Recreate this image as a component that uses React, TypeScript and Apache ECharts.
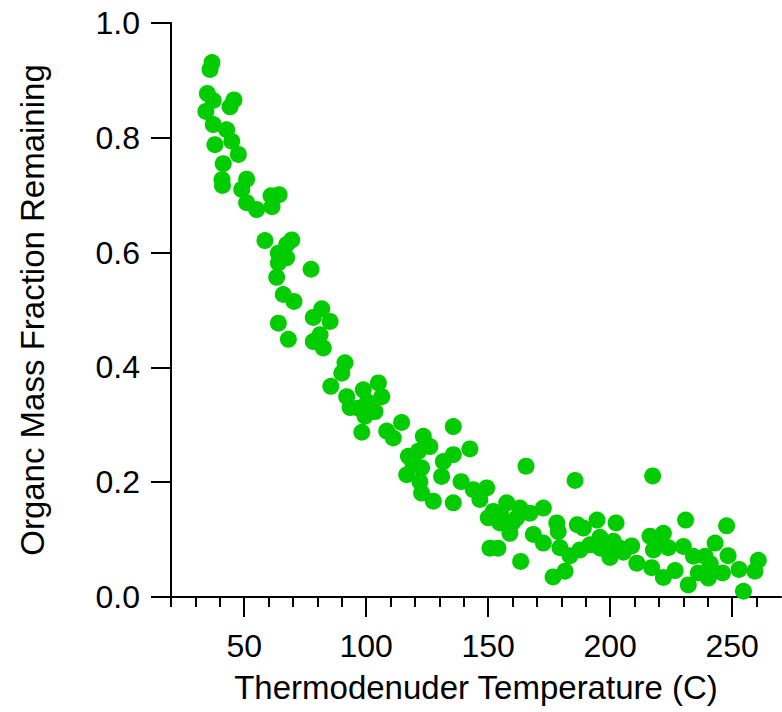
import React, { useEffect, useRef } from "react";
import * as echarts from "echarts";

// Thermodenuder temperature (°C) of each sample
const temperatureC: number[] = [
  36.0, 36.8, 34.9, 37.3, 45.8, 44.2, 34.3, 37.3, 42.8, 44.9, 38.0, 47.6, 41.4, 40.9, 41.1, 51.0, 49.0, 51.0, 55.1, 61.4, 61.0, 64.3,
  58.5, 69.5, 67.4, 64.0, 67.4, 64.0, 63.3, 77.4, 66.0, 70.4, 81.8, 78.3, 85.2, 64.0, 81.1, 78.3, 82.4, 68.1, 91.3, 90.0, 85.5, 92.0, 93.4,
  98.8, 105.0, 106.4, 96.8, 103.6, 99.5, 98.2, 108.4, 114.5, 111.1, 135.7, 123.4, 126.1, 117.3, 121.4, 135.7, 142.5, 116.6, 122.7, 131.6,
  130.9, 122.0, 122.7, 127.5, 135.7, 138.9, 143.9, 149.4, 146.6, 165.5, 152.1, 157.6, 150.0, 154.8, 158.9, 163.0, 167.1, 161.7, 172.6,
  168.5, 172.6, 150.7, 154.0, 163.3,
  185.6, 217.4, 178.1, 178.7, 186.5, 189.0, 194.6, 202.4, 179.4, 183.5, 181.5, 176.6, 187.6, 191.7, 195.8, 201.3, 199.9, 205.4, 208.8,
  210.9, 216.3, 221.8, 217.7, 217.0, 221.8, 223.8, 226.6, 230.0, 230.9, 232.0, 234.1, 236.1, 238.9, 240.2, 243.0, 247.7, 248.3, 246.0,
  252.8, 254.6, 259.3, 260.7,
  100.5, 119.0, 155.0, 160.0, 204.0, 219.0, 241.0, 196.0,
];

// Organic mass fraction remaining of each sample
const fractionRemaining: number[] = [
  0.919, 0.931, 0.877, 0.865, 0.866, 0.854, 0.846, 0.823, 0.814, 0.794, 0.788, 0.771, 0.755, 0.727, 0.717, 0.728, 0.71, 0.687, 0.675, 0.68, 0.699, 0.701,
  0.621, 0.622, 0.614, 0.599, 0.591, 0.582, 0.557, 0.571, 0.527, 0.515, 0.502, 0.487, 0.48, 0.477, 0.457, 0.445, 0.434, 0.449, 0.408, 0.39, 0.367, 0.349, 0.33,
  0.361, 0.373, 0.349, 0.329, 0.323, 0.315, 0.287, 0.289, 0.304, 0.277, 0.297, 0.28, 0.262, 0.245, 0.254, 0.248, 0.258, 0.213, 0.225, 0.236,
  0.21, 0.201, 0.181, 0.167, 0.164, 0.201, 0.187, 0.19, 0.17, 0.228, 0.149, 0.164, 0.138, 0.129, 0.111, 0.155, 0.146, 0.138, 0.155,
  0.109, 0.094, 0.085, 0.085, 0.062,
  0.203, 0.211, 0.129, 0.114, 0.126, 0.12, 0.134, 0.129, 0.086, 0.072, 0.045, 0.035, 0.082, 0.091, 0.104, 0.097, 0.069, 0.078, 0.089,
  0.059, 0.106, 0.111, 0.082, 0.051, 0.034, 0.086, 0.046, 0.088, 0.134, 0.021, 0.071, 0.042, 0.071, 0.033, 0.094, 0.124, 0.072, 0.042,
  0.048, 0.01, 0.045, 0.064,
  0.34, 0.235, 0.145, 0.13, 0.085, 0.098, 0.058, 0.085,
];

const xMinorTicks: number[] = [20, 30, 40, 50, 60, 70, 80, 90, 100, 110, 120, 130, 140, 150, 160, 170, 180, 190, 200, 210, 220, 230, 240, 250, 260];
const xMajorTicks: number[] = [50, 100, 150, 200, 250];

const FONT = "'Liberation Sans', Arial, sans-serif";

export default function App() {
  const ref = useRef<HTMLDivElement>(null);

  useEffect(() => {
    document.body.style.margin = "0";
    const chart = echarts.init(ref.current!, null, { renderer: "svg" });
    const points = temperatureC.map((t, i) => [t, fractionRemaining[i]]);
    const axisColor = "#000000";
    chart.setOption({
      animation: false,
      backgroundColor: "#ffffff",
      textStyle: { fontFamily: FONT },
      grid: { left: 171, top: 23, width: 610, height: 574, containLabel: false },
      xAxis: [
        {
          type: "value",
          min: 20,
          max: 270,
          position: "bottom",
          name: "Thermodenuder Temperature (C)",
          nameLocation: "middle",
          nameGap: 74,
          nameTextStyle: { fontSize: 33, color: axisColor, fontFamily: FONT },
          axisLine: { show: true, lineStyle: { color: axisColor, width: 2 } },
          axisTick: { show: true, inside: false, length: 10, customValues: xMinorTicks, lineStyle: { color: axisColor, width: 2 } },
          axisLabel: { show: true, customValues: xMajorTicks, fontSize: 32, color: axisColor, margin: 33, fontFamily: FONT },
          splitLine: { show: false },
        },
        {
          type: "value",
          min: 20,
          max: 270,
          position: "bottom",
          axisLine: { show: false },
          axisTick: { show: true, inside: false, length: 20, customValues: xMajorTicks, lineStyle: { color: axisColor, width: 2 } },
          axisLabel: { show: false },
          splitLine: { show: false },
        },
      ],
      yAxis: {
        type: "value",
        min: 0,
        max: 1,
        interval: 0.2,
        name: "Organc Mass Fraction Remaining",
        nameLocation: "middle",
        nameGap: 122,
        nameTextStyle: { fontSize: 33, color: axisColor, fontFamily: FONT },
        axisLine: { show: true, lineStyle: { color: axisColor, width: 2 } },
        axisTick: { show: true, inside: false, length: 20, lineStyle: { color: axisColor, width: 2 } },
        axisLabel: { fontSize: 32, color: axisColor, margin: 31, fontFamily: FONT, formatter: (v: number) => v.toFixed(1) },
        splitLine: { show: false },
      },
      series: [
        {
          type: "scatter",
          xAxisIndex: 0,
          data: points,
          symbol: "circle",
          symbolSize: 17,
          itemStyle: { color: "#00cc00", opacity: 1 },
        },
      ],
    });
    return () => chart.dispose();
  }, []);

  return <div ref={ref} style={{ width: 782, height: 712 }} />;
}
